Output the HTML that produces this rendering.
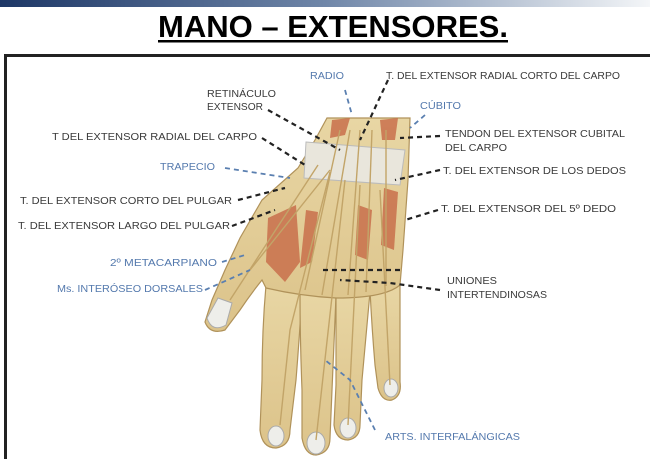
<!DOCTYPE html>
<html><head><meta charset="utf-8"><style>
html,body{margin:0;padding:0;background:#fff;}
svg{display:block}
.t{font-family:"Liberation Sans",sans-serif;font-size:10px;fill:#3a3a3a;}
.b{fill:#5479ad;}
.d{stroke:#222;stroke-width:2.2;stroke-dasharray:5 4;fill:none}
.db{stroke:#5a7fb0;stroke-width:1.8;stroke-dasharray:5 4;fill:none}
</style></head><body>
<svg width="650" height="459" viewBox="0 0 650 459">
<defs>
<linearGradient id="bar" x1="0" x2="1"><stop offset="0" stop-color="#1d3766"/><stop offset="0.5" stop-color="#6f86a8"/><stop offset="1" stop-color="#f4f6f8"/></linearGradient>
<linearGradient id="skin" x1="0" x2="0" y1="0" y2="1"><stop offset="0" stop-color="#e8d6a4"/><stop offset="1" stop-color="#dcc38a"/></linearGradient>
</defs>
<rect x="0" y="0" width="650" height="7" fill="url(#bar)"/>
<text x="333" y="37" text-anchor="middle" font-family="Liberation Sans,sans-serif" font-weight="bold" font-size="31" textLength="350" lengthAdjust="spacingAndGlyphs" fill="#000">MANO – EXTENSORES.</text>
<rect x="158" y="40" width="350" height="2.5" fill="#000"/>
<rect x="4" y="54" width="646" height="3" fill="#222"/>
<rect x="4" y="54" width="3" height="405" fill="#222"/>

<!-- hand -->
<g stroke="#b0925a" stroke-width="1.2" fill="url(#skin)">
<!-- fingers -->
<path d="M266,285 Q262,330 262,380 L260,430 Q262,448 276,448 Q290,446 290,430 L296,380 Q300,330 302,292 Z"/>
<path d="M300,292 Q300,340 302,390 L302,438 Q305,455 316,455 Q330,453 330,438 L332,390 Q334,340 336,296 Z"/>
<path d="M336,296 Q336,340 336,385 L334,425 Q336,440 348,440 Q360,438 360,425 L362,380 Q366,335 370,292 Z"/>
<path d="M370,290 Q372,330 375,365 L378,388 Q382,402 392,400 Q402,396 400,382 L400,330 Q400,300 400,284 Z"/>
<!-- palm + thumb -->
<path d="M327,118 L410,118 L408,180 L403,250 L400,285 Q385,298 336,298 Q300,296 266,288 L262,280 Q250,295 240,310 L225,330 Q210,335 205,322 L212,300 L225,270 L240,238 L262,200 L298,168 L315,140 Z"/>
</g>
<g fill="#eeeeea" stroke="#aaa">
<path d="M207,318 L218,298 L232,303 L226,325 Q212,333 207,318 Z"/>
<ellipse cx="276" cy="436" rx="8" ry="10"/><ellipse cx="316" cy="443" rx="9" ry="11"/><ellipse cx="348" cy="428" rx="8" ry="10"/><ellipse cx="391" cy="388" rx="7" ry="9"/>
</g>
<g fill="#c9704c" opacity="0.85">
<path d="M268,218 L296,205 L300,262 L285,282 L266,262 Z"/>
<path d="M306,210 L318,212 L312,262 L300,268 Z"/>
<path d="M358,205 L372,210 L368,260 L355,255 Z"/>
<path d="M384,188 L398,192 L394,250 L381,245 Z"/>
<path d="M332,120 L350,118 L345,135 L330,138 Z"/><path d="M380,120 L398,118 L395,140 L382,140 Z"/>
</g>
<path d="M306,142 L405,150 L400,185 L304,178 Z" fill="#e9e6dc" stroke="#bbb"/>
<g stroke="#c2a468" stroke-width="1.4" fill="none">
<path d="M340,130 L305,290"/><path d="M350,130 L322,295"/><path d="M360,130 L348,295"/><path d="M372,130 L366,292"/><path d="M386,130 L386,286"/><path d="M318,165 L230,300"/><path d="M330,172 L290,330 L280,425"/><path d="M345,180 L316,440"/><path d="M360,185 L348,425"/><path d="M380,190 L390,385"/><path d="M330,170 L250,270"/>
</g>

<!-- leaders -->
<g class="d">
<path d="M268,110 L340,150"/><path d="M262,138 L305,165"/><path d="M238,200 L285,188"/><path d="M232,226 L275,210"/>
<path d="M388,80 L360,140"/><path d="M440,136 L400,138"/><path d="M440,170 L395,180"/><path d="M438,210 L405,220"/><path d="M440,290 L390,283 L340,280"/><path d="M400,270 L320,270"/>
</g>
<g class="db">
<path d="M225,168 L290,178"/><path d="M222,262 L245,255"/><path d="M205,290 L250,270"/><path d="M345,90 L352,115"/><path d="M425,115 L410,128"/><path d="M375,430 L350,380 L325,360"/>
</g>

<!-- labels -->
<text class="t b" x="310" y="79" textLength="34" lengthAdjust="spacingAndGlyphs">RADIO</text>
<text class="t" x="386" y="79" textLength="234" lengthAdjust="spacingAndGlyphs">T. DEL EXTENSOR RADIAL CORTO DEL CARPO</text>
<text class="t" x="207" y="97" textLength="69" lengthAdjust="spacingAndGlyphs">RETINÁCULO</text>
<text class="t" x="207" y="110" textLength="56" lengthAdjust="spacingAndGlyphs">EXTENSOR</text>
<text class="t b" x="420" y="109" textLength="41" lengthAdjust="spacingAndGlyphs">CÚBITO</text>
<text class="t" x="52" y="140" textLength="205" lengthAdjust="spacingAndGlyphs">T DEL EXTENSOR RADIAL DEL CARPO</text>
<text class="t" x="445" y="137" textLength="180" lengthAdjust="spacingAndGlyphs">TENDON DEL EXTENSOR CUBITAL</text>
<text class="t" x="445" y="151" textLength="62" lengthAdjust="spacingAndGlyphs">DEL CARPO</text>
<text class="t b" x="160" y="170" textLength="55" lengthAdjust="spacingAndGlyphs">TRAPECIO</text>
<text class="t" x="443" y="174" textLength="183" lengthAdjust="spacingAndGlyphs">T. DEL EXTENSOR DE LOS DEDOS</text>
<text class="t" x="20" y="204" textLength="212" lengthAdjust="spacingAndGlyphs">T. DEL EXTENSOR CORTO DEL PULGAR</text>
<text class="t" x="441" y="212" textLength="175" lengthAdjust="spacingAndGlyphs">T. DEL EXTENSOR DEL 5º DEDO</text>
<text class="t" x="18" y="229" textLength="212" lengthAdjust="spacingAndGlyphs">T. DEL EXTENSOR LARGO DEL PULGAR</text>
<text class="t b" x="110" y="266" textLength="107" lengthAdjust="spacingAndGlyphs">2º METACARPIANO</text>
<text class="t b" x="57" y="292" textLength="146" lengthAdjust="spacingAndGlyphs">Ms. INTERÓSEO DORSALES</text>
<text class="t" x="447" y="284" textLength="50" lengthAdjust="spacingAndGlyphs">UNIONES</text>
<text class="t" x="447" y="298" textLength="100" lengthAdjust="spacingAndGlyphs">INTERTENDINOSAS</text>
<text class="t b" x="385" y="440" textLength="135" lengthAdjust="spacingAndGlyphs">ARTS. INTERFALÁNGICAS</text>
</svg>
</body></html>
